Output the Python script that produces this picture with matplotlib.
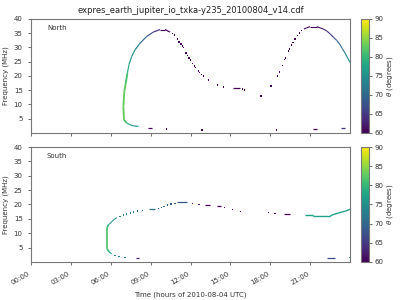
import matplotlib
matplotlib.use('Agg')
import matplotlib.pyplot as plt
from matplotlib.collections import LineCollection
from matplotlib.ticker import FuncFormatter
import numpy as np

title = 'expres_earth_jupiter_io_txka-y235_20100804_v14.cdf'

# ---- North hemisphere (hours, MHz, theta deg) ----
n_line_t = [8.08, 7.70, 7.45, 7.20, 7.00, 6.95, 7.02, 7.13, 7.25, 7.37, 7.58, 7.83, 8.20, 8.71, 9.20, 9.71, 10.08, 10.46]
n_line_f = [2.3, 2.5, 2.9, 3.5, 4.6, 9.3, 14.6, 17.5, 21.0, 24.0, 26.9, 29.2, 31.5, 33.9, 35.4, 36.3, 36.3, 35.4]
n_line_th = [75, 76, 77, 80, 83, 83, 83, 82, 80, 77, 76, 74, 72, 69, 66, 62, 60, 60]

n_arc_t = [20.54, 20.74, 20.99, 21.5, 21.75, 21.99, 22.25, 22.5, 22.75, 23.0, 23.25, 23.42, 23.63, 23.83, 24.0]
n_arc_f = [36.5, 36.9, 37.3, 37.3, 36.9, 36.5, 35.8, 34.8, 33.6, 32.5, 31.0, 29.6, 28.0, 26.3, 24.8]
n_arc_th = [61, 60, 60, 60, 61, 62, 64, 65, 67, 68, 70, 71, 73, 74, 75]

n_dot_t = [10.66, 10.78, 11.0, 11.14, 11.29, 11.41, 11.46, 11.66, 11.76, 11.89, 11.99, 12.14, 12.29, 12.39,
           12.59, 12.69, 12.84, 12.96, 13.34, 14.02, 14.47, 15.90, 16.05, 17.31, 18.06, 18.53, 18.69, 18.91,
           19.09, 19.13, 19.36, 19.44, 19.62, 19.71, 19.86, 20.04, 20.19, 20.37, 10.2, 12.87, 18.49]
n_dot_f = [34.8, 34.4, 33.0, 31.9, 31.2, 30.5, 29.9, 28.1, 27.2, 26.3, 25.6, 24.5, 23.5, 23.0,
           21.7, 21.2, 20.5, 20.0, 18.6, 16.8, 16.1, 15.4, 15.1, 13.0, 16.5, 20.0, 21.4, 23.8,
           25.7, 26.3, 28.8, 29.5, 30.9, 31.8, 33.0, 34.2, 35.1, 35.9, 1.4, 1.0, 1.0]
n_dot_th = [60] * 38 + [60, 60, 60]

# short horizontal runs: start, end, freq, theta
n_bar_t0 = [15.2, 8.8, 21.25, 23.3]
n_bar_t1 = [15.7, 9.1, 21.5, 23.6]
n_bar_f = [15.8, 1.7, 1.5, 1.8]
n_bar_th = [60, 60, 60, 64]

# ---- South hemisphere ----
s_line_t = [6.07, 5.89, 5.74, 5.70, 5.70, 5.74, 5.82, 5.94, 6.07, 6.25, 6.45]
s_line_f = [2.8, 3.5, 4.4, 4.8, 10.0, 12.1, 12.9, 13.4, 14.0, 14.8, 15.4]
s_line_th = [77, 79, 81, 82, 82, 81, 79, 77, 76, 76, 75]

s_arc_t = [20.62, 21.22, 21.22, 22.5, 22.63, 22.87, 23.12, 23.38, 23.68, 23.93, 24.0]
s_arc_f = [16.2, 16.2, 15.9, 15.9, 16.3, 16.7, 17.0, 17.4, 17.7, 18.2, 18.4]
s_arc_th = [77, 77, 77, 77, 77, 77, 77, 77, 77, 77, 77]

s_dot_t = [6.32, 6.62, 7.07, 6.70, 6.95, 7.20, 7.50, 7.70, 8.0, 8.37, 9.58, 9.83, 10.0, 10.29,
           10.53, 10.84, 12.17, 12.64, 14.55, 15.15, 15.75, 17.86, 18.36, 23.95]
s_dot_f = [2.3, 2.0, 1.6, 15.9, 16.3, 16.7, 17.0, 17.4, 17.7, 18.0, 18.7, 19.0, 19.4, 19.8,
           20.2, 20.4, 20.4, 20.1, 19.0, 18.3, 17.6, 17.3, 16.9, 1.6]
s_dot_th = [76, 75, 74, 75, 74, 74, 73, 73, 72, 72, 71, 70, 70, 70,
            69, 69, 64, 62, 60, 60, 60, 60, 60, 75]

s_bar_t0 = [8.9, 11.0, 13.1, 14.0, 19.06, 22.27, 7.9]
s_bar_t1 = [9.3, 11.72, 13.45, 14.3, 19.49, 22.87, 8.1]
s_bar_f = [18.3, 20.8, 19.7, 19.4, 16.6, 1.3, 1.3]
s_bar_th = [71, 68, 61, 60, 60, 67, 63]

hour_ticks = [0, 3, 6, 9, 12, 15, 18, 21]
theta_min, theta_max = 60, 90

cmap = plt.get_cmap('viridis')
norm = plt.Normalize(theta_min, theta_max)


def add_line(ax, t, f, th, lw):
    pts = np.column_stack([t, f])
    segs = np.stack([pts[:-1], pts[1:]], axis=1)
    thm = (np.array(th[:-1]) + np.array(th[1:])) / 2.0
    # the steep low-frequency part of the arcs is drawn wider, as in the original cells
    widths = np.where(thm >= 79, lw * 1.6, lw)
    lc = LineCollection(segs, cmap=cmap, norm=norm, linewidths=widths, capstyle='butt')
    lc.set_array(thm)
    ax.add_collection(lc)


def draw_panel(ax, lines, dots, bars, name):
    for (t, f, th, lw) in lines:
        add_line(ax, t, f, th, lw)
    t, f, th = dots
    sc = ax.scatter(t, f, c=th, cmap=cmap, norm=norm, marker='s', s=0.9, linewidths=0)
    t0, t1, f, th = bars
    ax.hlines(f, t0, t1, colors=cmap(norm(np.array(th))), linewidth=0.9)
    ax.set_xlim(0, 24)
    ax.set_ylim(0, 40)
    ax.set_yticks(np.arange(5, 41, 5))
    ax.set_xticks(hour_ticks)
    ax.set_ylabel('Frequency (MHz)', fontsize=5, color='#333333', labelpad=3)
    ax.text(0.05, 0.9, name, transform=ax.transAxes, fontsize=5, color='#333333')
    ax.tick_params(labelsize=5, length=2.5, width=0.6, colors='#555555', labelcolor='#333333')
    for s in ax.spines.values():
        s.set_color('#777777')
        s.set_linewidth(0.8)
    return sc


fig = plt.figure(figsize=(4, 3), dpi=100)
ax1 = fig.add_axes([0.0775, 0.5567, 0.7975, 0.38])
ax2 = fig.add_axes([0.0775, 0.1267, 0.7975, 0.3833])
cax1 = fig.add_axes([0.9025, 0.5567, 0.02, 0.38])
cax2 = fig.add_axes([0.9025, 0.1267, 0.02, 0.3833])

sc1 = draw_panel(ax1,
                 [(n_line_t, n_line_f, n_line_th, 0.85), (n_arc_t, n_arc_f, n_arc_th, 0.8)],
                 (n_dot_t, n_dot_f, n_dot_th),
                 (n_bar_t0, n_bar_t1, n_bar_f, n_bar_th), 'North')
sc2 = draw_panel(ax2,
                 [(s_line_t, s_line_f, s_line_th, 0.8), (s_arc_t, s_arc_f, s_arc_th, 1.0)],
                 (s_dot_t, s_dot_f, s_dot_th),
                 (s_bar_t0, s_bar_t1, s_bar_f, s_bar_th), 'South')

ax1.set_xticklabels([])
ax2.xaxis.set_major_formatter(FuncFormatter(lambda v, p: '%02d:00' % int(v)))
for lab in ax2.get_xticklabels():
    lab.set_rotation(30)
    lab.set_ha('right')
ax2.set_xlabel('Time (hours of 2010-08-04 UTC)', fontsize=5, color='#333333')
ax1.set_title(title, fontsize=6, color='#222222', pad=4)

for cax, sc in [(cax1, sc1), (cax2, sc2)]:
    cb = fig.colorbar(sc, cax=cax)
    cb.set_ticks(np.arange(60, 91, 5))
    cb.set_label(r'$\theta$ (degrees)', fontsize=5, color='#333333', labelpad=1)
    cb.ax.tick_params(labelsize=5, length=2.5, width=0.6, colors='#555555', labelcolor='#333333', pad=1.5)
    cb.outline.set_edgecolor('#777777')
    cb.outline.set_linewidth(0.8)

fig.savefig('out.png', dpi=100)
